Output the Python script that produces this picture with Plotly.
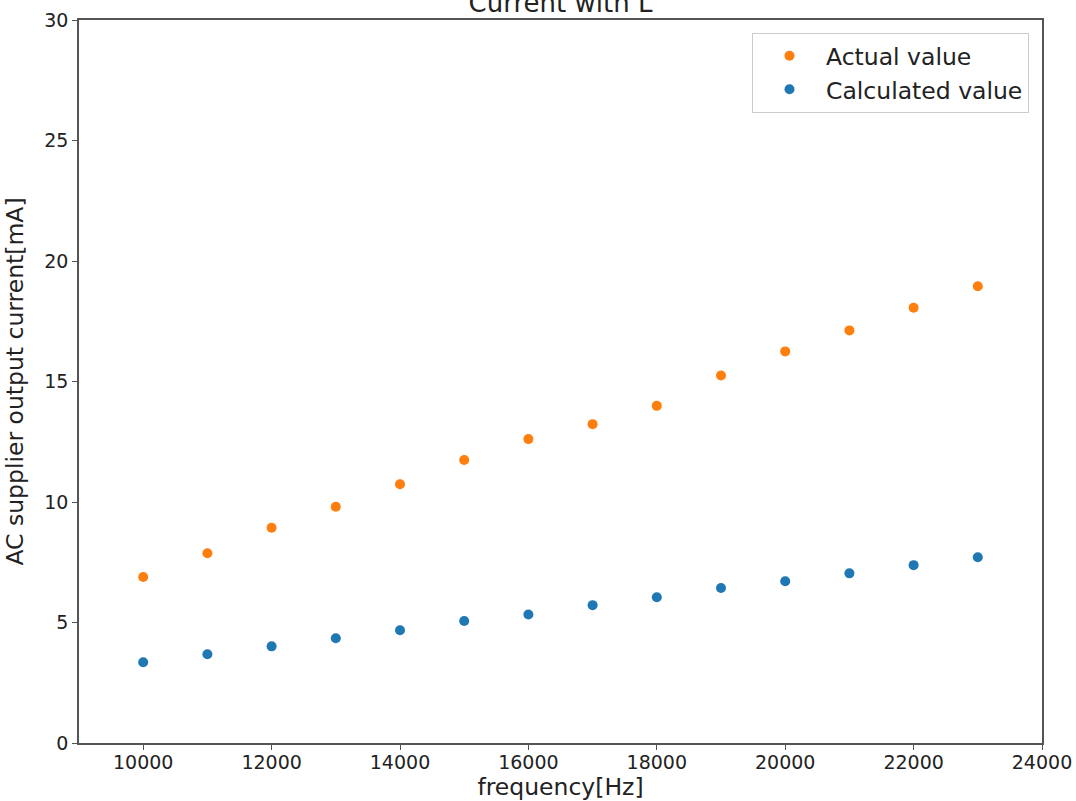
import plotly.graph_objects as go

frequency = [10000, 11000, 12000, 13000, 14000, 15000, 16000,
             17000, 18000, 19000, 20000, 21000, 22000, 23000]
actual_value = [6.89, 7.87, 8.93, 9.80, 10.74, 11.74, 12.61,
                13.23, 13.99, 15.25, 16.25, 17.12, 18.06, 18.95]
calculated_value = [3.35, 3.68, 4.01, 4.35, 4.68, 5.06, 5.33,
                    5.72, 6.05, 6.43, 6.71, 7.04, 7.38, 7.71]
x_ticks = [10000, 12000, 14000, 16000, 18000, 20000, 22000, 24000]
y_ticks = [0, 5, 10, 15, 20, 25, 30]

FONT = "DejaVu Sans"
fig = go.Figure()
fig.add_trace(go.Scatter(x=frequency, y=actual_value, mode="markers",
                         name="Actual value",
                         marker=dict(color="#ff7f0e", size=10)))
fig.add_trace(go.Scatter(x=frequency, y=calculated_value, mode="markers",
                         name="Calculated value",
                         marker=dict(color="#1f77b4", size=10)))

axis_common = dict(showgrid=False, zeroline=False, showline=True,
                   linecolor="#555555", linewidth=1.5, mirror=True,
                   ticks="outside", ticklen=5, tickcolor="#555555",
                   automargin=False,
                   tickfont=dict(family=FONT, size=19, color="#222222"),
                   title_font=dict(family=FONT, size=23.5, color="#222222"))

fig.update_layout(
    width=1076, height=801,
    paper_bgcolor="white", plot_bgcolor="white",
    margin=dict(l=79, r=34, t=20, b=58),
    title=dict(text="Current with L", x=(79 + 1042) / 2 / 1076, xanchor="center",
               yref="container", y=1 - 3 / 801, yanchor="middle", automargin=False,
               font=dict(family=FONT, size=26, color="#222222")),
    xaxis=dict(range=[9000, 24000], tickvals=x_ticks, tickformat="d",
               ticklabelstandoff=-4,
               title=dict(text="frequency[Hz]", standoff=2), **axis_common),
    yaxis=dict(range=[0, 30], tickvals=y_ticks,
               title=dict(text="AC supplier output current[mA]", standoff=14), **axis_common),
    legend=dict(x=0.9865, y=0.982, xanchor="right", yanchor="top",
                bgcolor="white", bordercolor="#cccccc", borderwidth=1,
                font=dict(family=FONT, size=23.5, color="#222222"),
                itemwidth=63),
    showlegend=True,
)

fig.write_html("out.html", config={"displayModeBar": False},
               post_script="document.body.style.margin='0';document.body.style.overflow='hidden';")
